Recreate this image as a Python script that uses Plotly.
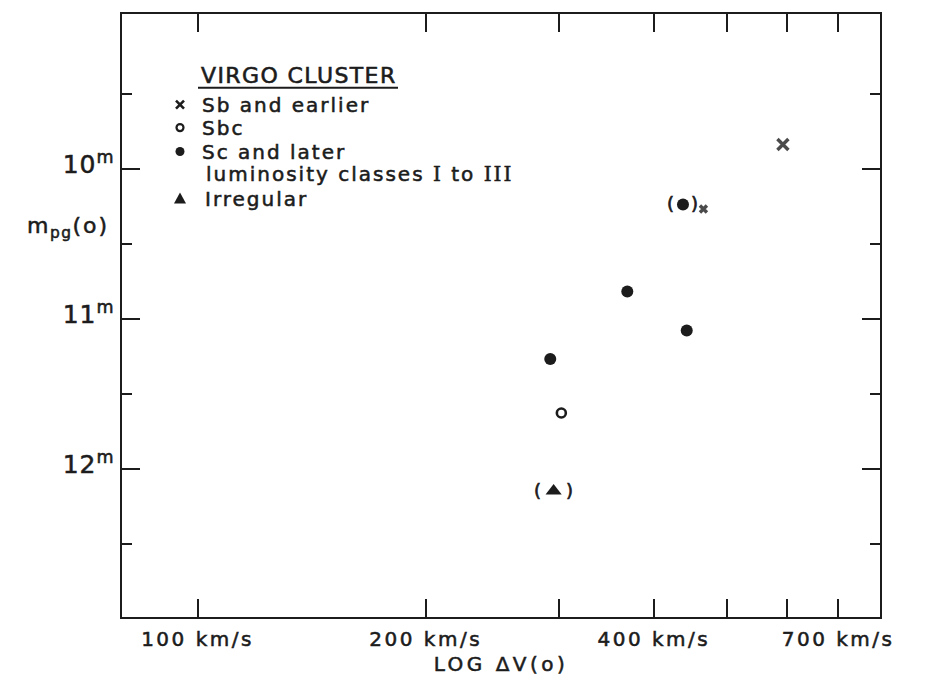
import math
import plotly.graph_objects as go

# Virgo cluster: 21-cm line width vs. corrected photographic magnitude
sb_v = [592, 465]          # Sb and earlier (km/s)
sb_m = [9.84, 10.27]

sbc_v = [302]              # Sbc
sbc_m = [11.63]

sc_v = [437, 369, 442, 292]  # Sc and later, luminosity classes I-III
sc_m = [10.24, 10.82, 11.08, 11.27]

irr_v = [295]              # Irregular
irr_m = [12.15]

# uncertain objects, shown in parentheses
paren_v = [437, 295]
paren_m = [10.24, 12.15]

x_tick_vals = [100, 200, 300, 400, 500, 600, 700]
x_tick_text = ["100 km/s", "200 km/s", "", "400 km/s", "", "", "700 km/s"]
y_tick_vals = [10, 11, 12]
y_tick_text = ["10", "11", "12"]
y_minor_vals = [9.5, 10.5, 11.5, 12.5]

# ---- page geometry (pixels) ----
W, H = 933, 692
L, R, T, B = 122, 880, 12, 617
FONT = "DejaVu Sans"
INK = "#1c1c1c"


def spaced(s, px, stroke=0.55):
    """Lettering-style text: extra tracking and a slightly heavier stroke."""
    return (f'<span style="letter-spacing:{px}px;stroke:{INK};'
            f'stroke-width:{stroke}px">{s}</span>')


def fx(px):
    return (px - L) / (R - L)


def fy(py):
    return (B - py) / (B - T)


fig = go.Figure()

fig.add_trace(go.Scatter(
    x=sb_v, y=sb_m, mode="markers", name="Sb and earlier",
    marker=dict(symbol="x-thin", size=[11, 7], color="black",
                line=dict(width=3.4, color="black")),
))
fig.add_trace(go.Scatter(
    x=sbc_v, y=sbc_m, mode="markers", name="Sbc",
    marker=dict(symbol="circle-open", size=9, color=INK,
                line=dict(width=2.6, color=INK)),
))
fig.add_trace(go.Scatter(
    x=sc_v, y=sc_m, mode="markers", name="Sc and later",
    marker=dict(symbol="circle", size=12, color=INK, line=dict(width=0)),
))
fig.add_trace(go.Scatter(
    x=irr_v, y=irr_m, mode="markers", name="Irregular",
    marker=dict(symbol="triangle-up", size=14, color=INK, line=dict(width=0)),
))

annotations = []
# parentheses around uncertain points
paren_gap = [12, 16]
for v, m, g in zip(paren_v, paren_m, paren_gap):
    for ch, sh in (("(", -g), (")", g)):
        annotations.append(dict(
            x=math.log10(v), y=m, xref="x", yref="y",
            text=spaced(ch, 0, 0.7),
            showarrow=False, xshift=sh, yshift=1,
            font=dict(family=FONT, size=18, color=INK),
        ))

# legend block
annotations.append(dict(
    x=fx(199), y=fy(74), xref="paper", yref="paper", xanchor="left",
    yanchor="middle", showarrow=False,
    text=spaced("VIRGO CLUSTER", 1.4, 0.6),
    font=dict(family=FONT, size=22, color=INK),
))
legend_rows = [
    ("Sb and earlier", 200, 103),
    ("Sbc", 200, 126),
    ("Sc and later", 200, 150),
    ("luminosity classes "
     '<span style="font-family:DejaVu Serif">I</span> to '
     '<span style="font-family:DejaVu Serif">III</span>', 204, 173),
    ("Irregular", 203, 198),
]
for txt, x0, y0 in legend_rows:
    annotations.append(dict(
        x=fx(x0), y=fy(y0), xref="paper", yref="paper", xanchor="left",
        yanchor="middle", showarrow=False, text=spaced(txt, 2),
        font=dict(family=FONT, size=20, color=INK),
    ))

# y-axis title
annotations.append(dict(
    x=fx(111), y=fy(226), xref="paper", yref="paper", xanchor="right",
    yanchor="middle", showarrow=False,
    text=spaced("m", 1.5) + "<sub>" + spaced("pg", 1.5) + "</sub>"
    + spaced("(o)", 2),
    font=dict(family=FONT, size=22, color=INK),
))

shapes = []
# underline of legend heading
shapes.append(dict(type="line", xref="paper", yref="paper",
                   x0=fx(198), x1=fx(398), y0=fy(86), y1=fy(86),
                   line=dict(color=INK, width=2.2)))


def sym(cx, cy, **kw):
    d = dict(xref="paper", yref="paper", xsizemode="pixel",
             ysizemode="pixel", xanchor=fx(cx), yanchor=fy(cy))
    d.update(kw)
    return d


shapes.append(sym(180, 103, type="path",
                  path="M -4,-4 L 4,4 M -4,4 L 4,-4",
                  line=dict(color=INK, width=2.6)))
shapes.append(sym(180, 126, type="circle", x0=-3.5, x1=3.5, y0=-3.5, y1=3.5,
                  line=dict(color=INK, width=2.2)))
shapes.append(sym(180, 150, type="circle", x0=-4.5, x1=4.5, y0=-4.5, y1=4.5,
                  fillcolor=INK, line=dict(color=INK, width=0)))
shapes.append(sym(180, 197, type="path", path="M -6,-5 L 6,-5 L 0,6 Z",
                  fillcolor=INK, line=dict(color=INK, width=0)))

fig.update_layout(
    width=W, height=H,
    margin=dict(l=L, r=W - R, t=T, b=H - B, pad=0),
    paper_bgcolor="white", plot_bgcolor="white",
    showlegend=False,
    font=dict(family=FONT, color=INK),
    annotations=annotations,
    shapes=shapes,
)

fig.update_xaxes(
    type="log", range=[1.9004, 2.9004],
    tickvals=x_tick_vals,
    ticktext=[spaced(t, 2.5) if t else "" for t in x_tick_text],
    ticks="inside", ticklen=18, tickwidth=2, tickcolor=INK,
    showline=True, linewidth=2, linecolor=INK, mirror="ticks",
    showgrid=False, zeroline=False,
    tickfont=dict(family=FONT, size=20, color=INK),
    ticklabelstandoff=3,
    title=dict(text=spaced("LOG ΔV(o)", 3.5), standoff=7,
               font=dict(family=FONT, size=20, color=INK)),
)

fig.update_yaxes(
    range=[12.99, 8.97], autorange=False,
    tickvals=y_tick_vals,
    ticktext=[spaced(t, 1) + "<sup>" + spaced("m", 0.5) + "</sup>"
              for t in y_tick_text],
    ticks="inside", ticklen=18, tickwidth=2, tickcolor=INK,
    minor=dict(tickvals=y_minor_vals, ticks="inside", ticklen=10,
               tickwidth=2, tickcolor=INK, showgrid=False),
    showline=True, linewidth=2, linecolor=INK, mirror="ticks",
    showgrid=False, zeroline=False,
    tickfont=dict(family=FONT, size=25, color=INK),
    ticklabelstandoff=1,
    ticklabelshift=4,
)

fig.write_html("out.html")
